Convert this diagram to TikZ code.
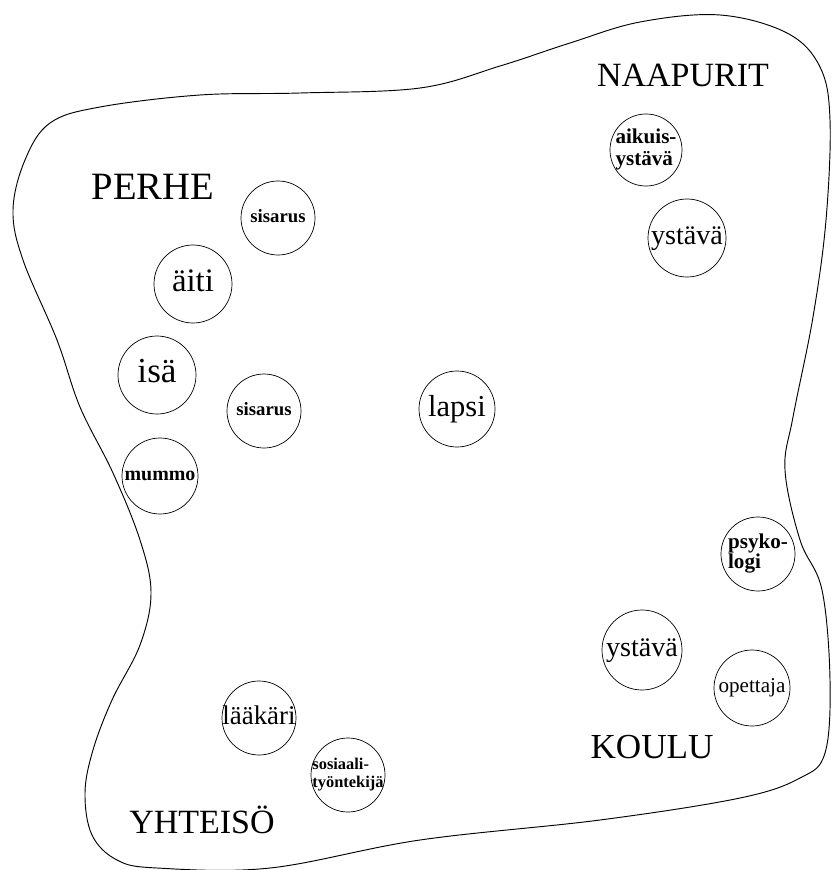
\documentclass[tikz,border=0pt]{standalone}
\usepackage{fontspec}
\setmainfont{Liberation Serif}
\usepackage{tikz}
\usetikzlibrary{positioning}

% text that may run over the rim of its circle
\newcommand{\ctext}[2]{\makebox[0pt]{#1\begin{tabular}{@{}l@{}}#2\end{tabular}}}

\begin{document}
\begin{tikzpicture}[
    x=0.03cm, y=-0.03cm,
    person/.style={circle, draw, line width=0.6pt, inner sep=0pt, minimum size=2.28cm},
    group/.style={font=\fontsize{29}{34}\selectfont},
]
    \useasboundingbox (0,0) rectangle (831,870);

    % Outline of the network
    \draw[line width=0.8pt] plot[smooth cycle, tension=0.6] coordinates {
        (420,88) (500,66) (570,43) (640,22) (720,15) (787,33) (820,67)
        (830,120) (826,220) (813,317) (793,417) (785,470) (800,540)
        (822,590) (830,680) (825,753) (800,778) (740,798) (600,820)
        (420,840) (270,868) (157,868) (117,860) (92,835) (85,793)
        (93,750) (112,700) (140,645) (151,593) (140,540) (113,473)
        (80,407) (57,340) (23,260) (13,210) (25,160) (50,123)
        (100,107) (200,95) (300,93)};

    % Groups
    \node[group, font=\fontsize{33}{38}\selectfont] (perhe) at (153,187) {PERHE};
    \node[group] (naapurit) at (683,75) {NAAPURIT};
    \node[group, font=\fontsize{30}{35}\selectfont] (koulu) at (652,747) {KOULU};
    \node[group] (yhteiso) at (202,820) {YHTEISÖ};

    % Child
    \node[person] (lapsi) at (457,409)
        {\ctext{\fontsize{26}{30}\selectfont}{lapsi}};

    % Family
    \node[person, minimum size=2.22cm] (sisarusA) at (278,218)
        {\ctext{\fontsize{16}{18}\selectfont\bfseries}{sisarus}};
    \node[person, minimum size=2.34cm] (aiti) at (193,284)
        {\ctext{\fontsize{28}{32}\selectfont}{äiti}};
    \node[person, minimum size=2.34cm] (isa) at (157,375)
        {\ctext{\fontsize{30}{34}\selectfont}{isä}};
    \node[person, minimum size=2.22cm] (sisarusB) at (264,411)
        {\ctext{\fontsize{16}{18}\selectfont\bfseries}{sisarus}};
    \node[person] (mummo) at (160,476)
        {\ctext{\fontsize{17}{19}\selectfont\bfseries}{mummo}};

    % Neighbours
    \node[person, minimum size=2.16cm] (aikuis) at (646,150)
        {\ctext{\fontsize{18}{19}\selectfont\bfseries}{aikuis-\\ystävä}};
    \node[person, minimum size=2.34cm] (ystavaA) at (687,238)
        {\ctext{\fontsize{24}{28}\selectfont}{ystävä}};

    % School
    \node[person, minimum size=2.22cm] (psyko) at (758,554)
        {\ctext{\fontsize{18}{16}\selectfont\bfseries}{psyko-\\logi}};
    \node[person, minimum size=2.4cm] (ystavaB) at (642,650)
        {\ctext{\fontsize{24}{28}\selectfont}{ystävä}};
    \node[person] (opettaja) at (752,688)
        {\ctext{\fontsize{18}{20}\selectfont}{opettaja}};

    % Community
    \node[person, minimum size=2.22cm] (laakari) at (259,718)
        {\ctext{\fontsize{23}{26}\selectfont}{lääkäri}};
    \node[person, minimum size=2.22cm] (sosiaali) at (348,775)
        {\ctext{\fontsize{14}{15}\selectfont\bfseries}{sosiaali-\\työntekijä}};
\end{tikzpicture}
\end{document}
